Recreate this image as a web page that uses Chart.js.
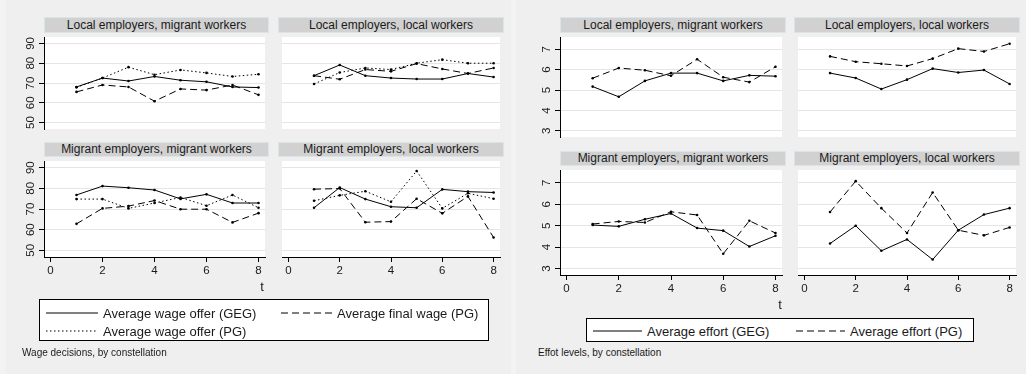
<!DOCTYPE html>
<html>
<head>
<meta charset="utf-8">
<script src="https://cdn.jsdelivr.net/npm/chart.js@4.4.1/dist/chart.umd.min.js"></script>
<style>
  html, body { margin: 0; padding: 0; }
  body { width: 1026px; height: 374px; background: #f3f3f3; position: relative; overflow: hidden;
         font-family: "Liberation Sans", Arial, Helvetica, sans-serif; color: #1a1a1a; }
  .graph { position: absolute; top: 0; height: 374px; background: #efefef; }
  .panel-title { position: absolute; box-sizing: border-box; background: #d1d1d1; border: 1px solid #dbe4e8;
                 font-size: 12px; text-align: center; white-space: nowrap; }
  canvas { position: absolute; }
  .axis-title { position: absolute; font-size: 13px; transform: translate(-50%, -50%); }
  .legend { position: absolute; box-sizing: border-box; background: #fff; border: 1px solid #000; }
  .legend svg { position: absolute; overflow: visible; }
  .legend span { position: absolute; font-size: 13px; white-space: nowrap; transform: translateY(-50%); }
  .caption { position: absolute; font-size: 10px; transform: translateY(-50%); white-space: nowrap; }
</style>
</head>
<body>
<div class="graph" style="left:6px; width:505px;"></div>
<div class="graph" style="left:516px; width:510px;"></div>

<script>
// Periods and axis ticks
const periods = [1, 2, 3, 4, 5, 6, 7, 8];
const periodTicks = [0, 2, 4, 6, 8];
const wageTicks = [50, 60, 70, 80, 90];
const effortTicks = [3, 4, 5, 6, 7];

const panelNames = [
  'Local employers, migrant workers',
  'Local employers, local workers',
  'Migrant employers, migrant workers',
  'Migrant employers, local workers'
];

// Wage decisions: average wage offer (GEG), average final wage (PG), average wage offer (PG)
const wageOfferGEG_LM = [68.0, 72.5, 71.0, 73.3, 71.4, 70.6, 68.0, 67.7];
const finalWagePG_LM  = [65.5, 69.0, 68.0, 60.8, 67.0, 66.4, 69.0, 64.0];
const wageOfferPG_LM  = [67.8, 72.5, 78.0, 74.2, 76.6, 75.1, 73.3, 74.4];

const wageOfferGEG_LL = [73.7, 79.1, 73.7, 72.5, 72.0, 72.0, 74.8, 73.0];
const finalWagePG_LL  = [73.7, 71.9, 76.8, 75.9, 79.8, 77.1, 74.8, 77.6];
const wageOfferPG_LL  = [69.5, 75.3, 77.6, 76.8, 80.0, 81.8, 80.0, 80.0];

const wageOfferGEG_MM = [76.8, 81.1, 80.3, 79.2, 74.9, 77.1, 72.9, 72.9];
const finalWagePG_MM  = [62.8, 70.3, 71.4, 74.1, 69.9, 69.9, 63.5, 68.0];
const wageOfferPG_MM  = [74.8, 74.8, 70.3, 72.9, 75.6, 71.6, 76.8, 70.6];

const wageOfferGEG_ML = [70.6, 80.4, 74.8, 71.1, 70.6, 79.5, 78.4, 78.0];
const finalWagePG_ML  = [79.6, 79.9, 63.6, 63.9, 75.0, 67.9, 76.1, 56.2];
const wageOfferPG_ML  = [74.0, 76.6, 78.6, 73.5, 88.4, 70.3, 77.6, 75.0];

// Effort levels: average effort (GEG), average effort (PG)
const effortGEG_LM = [5.17, 4.67, 5.45, 5.83, 5.83, 5.45, 5.72, 5.68];
const effortPG_LM  = [5.58, 6.08, 5.97, 5.70, 6.51, 5.63, 5.39, 6.14];

const effortGEG_LL = [5.83, 5.59, 5.05, 5.51, 6.05, 5.86, 5.98, 5.30];
const effortPG_LL  = [6.65, 6.39, 6.29, 6.18, 6.54, 7.03, 6.89, 7.27];

const effortGEG_MM = [5.03, 4.97, 5.30, 5.57, 4.89, 4.77, 4.03, 4.53];
const effortPG_MM  = [5.08, 5.20, 5.15, 5.65, 5.50, 3.69, 5.23, 4.66];

const effortGEG_ML = [4.17, 5.00, 3.83, 4.36, 3.42, 4.79, 5.52, 5.82];
const effortPG_ML  = [5.64, 7.08, 5.82, 4.66, 6.55, 4.79, 4.55, 4.92];

// Line styles shared by both graphs
const SOLID = [];
const DASHED = [7, 4];
const DOTTED = [1.5, 2.5];

const FONT = '"Liberation Sans", Arial, Helvetica, sans-serif';
const Y_AXIS_W = 40;
const X_AXIS_H = 24;

// White plot region and vertical (rotated) y tick labels
const panelDecor = {
  id: 'panelDecor',
  beforeDraw(chart) {
    const { ctx, chartArea: a } = chart;
    ctx.save();
    ctx.fillStyle = '#ffffff';
    ctx.fillRect(a.left, a.top, a.right - a.left, a.bottom - a.top);
    ctx.restore();
  },
  afterDraw(chart, args, opts) {
    if (!opts.rotatedY) return;
    const { ctx } = chart;
    const s = chart.scales.y;
    ctx.save();
    ctx.font = '11.5px ' + FONT;
    ctx.fillStyle = '#1a1a1a';
    ctx.textAlign = 'center';
    ctx.textBaseline = 'middle';
    s.ticks.forEach(t => {
      const py = s.getPixelForValue(t.value);
      ctx.save();
      ctx.translate(s.right - 14.5, py);
      ctx.rotate(-Math.PI / 2);
      ctx.fillText(String(t.value), 0, 1);
      ctx.restore();
    });
    ctx.restore();
  }
};

function series(values, dash) {
  return {
    data: periods.map((t, i) => ({ x: t, y: values[i] })),
    borderColor: '#000',
    borderWidth: 1,
    borderDash: dash,
    pointRadius: 1.3,
    pointBackgroundColor: '#000',
    pointBorderWidth: 0,
    tension: 0,
    fill: false
  };
}

function panel(cfg) {
  const p = cfg.plot;
  const left = p.x - (cfg.showY ? Y_AXIS_W : 0);
  const width = p.w + (cfg.showY ? Y_AXIS_W : 0);
  const height = p.h + (cfg.showX ? X_AXIS_H : 0);

  const title = document.createElement('div');
  title.className = 'panel-title';
  title.textContent = cfg.title;
  Object.assign(title.style, {
    left: p.x + 'px', top: cfg.titleY + 'px', width: p.w + 'px',
    height: cfg.titleH + 'px', lineHeight: (cfg.titleH - 2) + 'px'
  });
  document.body.appendChild(title);

  const canvas = document.createElement('canvas');
  canvas.width = width;
  canvas.height = height;
  Object.assign(canvas.style, { left: left + 'px', top: p.y + 'px', width: width + 'px', height: height + 'px' });
  document.body.appendChild(canvas);

  new Chart(canvas, {
    type: 'line',
    data: { datasets: cfg.datasets },
    options: {
      responsive: false,
      animation: false,
      devicePixelRatio: 1,
      layout: { padding: 0 },
      plugins: {
        legend: { display: false },
        tooltip: { enabled: false },
        panelDecor: { rotatedY: cfg.showY }
      },
      scales: {
        x: {
          type: 'linear',
          display: cfg.showX,
          min: -0.25, max: 8.25,
          afterBuildTicks: s => { s.ticks = periodTicks.map(v => ({ value: v })); },
          afterFit: s => { s.height = cfg.showX ? X_AXIS_H : 0; },
          grid: { drawOnChartArea: false, drawTicks: true, tickLength: 5, tickColor: '#000', lineWidth: 1 },
          border: { display: true, color: '#000', width: 1 },
          ticks: { color: '#1a1a1a', font: { family: FONT, size: 11.5 }, padding: 2, maxRotation: 0, autoSkip: false }
        },
        y: {
          type: 'linear',
          min: cfg.yMin, max: cfg.yMax,
          afterBuildTicks: s => { s.ticks = cfg.yTicks.map(v => ({ value: v })); },
          afterFit: s => { s.width = cfg.showY ? Y_AXIS_W : 0; },
          grid: { color: '#e5e5e5', lineWidth: 1, drawTicks: cfg.showY, tickLength: 5, tickColor: '#000' },
          border: { display: cfg.showY, color: '#000', width: 1 },
          ticks: { display: false }
        }
      }
    },
    plugins: [panelDecor]
  });
}

// Wage decisions, by constellation
const wageSets = [
  [wageOfferGEG_LM, finalWagePG_LM, wageOfferPG_LM],
  [wageOfferGEG_LL, finalWagePG_LL, wageOfferPG_LL],
  [wageOfferGEG_MM, finalWagePG_MM, wageOfferPG_MM],
  [wageOfferGEG_ML, finalWagePG_ML, wageOfferPG_ML]
];
const wageLayout = [
  { plot: { x: 44, y: 33, w: 225, h: 100 }, titleY: 17, titleH: 16, showY: true, showX: false },
  { plot: { x: 278, y: 33, w: 226, h: 100 }, titleY: 17, titleH: 16, showY: false, showX: false },
  { plot: { x: 44, y: 157, w: 225, h: 100 }, titleY: 142, titleH: 15, showY: true, showX: true },
  { plot: { x: 278, y: 157, w: 226, h: 100 }, titleY: 142, titleH: 15, showY: false, showX: true }
];
wageLayout.forEach((l, i) => panel(Object.assign({}, l, {
  title: panelNames[i],
  yMin: 46.75, yMax: 93.25, yTicks: wageTicks,
  datasets: [series(wageSets[i][0], SOLID), series(wageSets[i][1], DASHED), series(wageSets[i][2], DOTTED)]
})));

// Effort levels, by constellation
const effortSets = [
  [effortGEG_LM, effortPG_LM],
  [effortGEG_LL, effortPG_LL],
  [effortGEG_MM, effortPG_MM],
  [effortGEG_ML, effortPG_ML]
];
const effortLayout = [
  { plot: { x: 560, y: 33, w: 226, h: 108 }, titleY: 17, titleH: 16, showY: true, showX: false },
  { plot: { x: 794, y: 33, w: 226, h: 108 }, titleY: 17, titleH: 16, showY: false, showX: false },
  { plot: { x: 560, y: 166, w: 226, h: 109 }, titleY: 151, titleH: 15, showY: true, showX: true },
  { plot: { x: 794, y: 166, w: 226, h: 109 }, titleY: 151, titleH: 15, showY: false, showX: true }
];
effortLayout.forEach((l, i) => panel(Object.assign({}, l, {
  title: panelNames[i],
  yMin: 2.7, yMax: 7.6, yTicks: effortTicks,
  datasets: [series(effortSets[i][0], SOLID), series(effortSets[i][1], DASHED)]
})));

// Axis titles, legends and captions
function addText(cls, text, x, y) {
  const d = document.createElement('div');
  d.className = cls;
  d.textContent = text;
  d.style.left = x + 'px';
  d.style.top = y + 'px';
  document.body.appendChild(d);
  return d;
}
addText('axis-title', 't', 262, 286);
addText('axis-title', 't', 780, 304);

function legend(box, items) {
  const lg = document.createElement('div');
  lg.className = 'legend';
  Object.assign(lg.style, { left: box.x + 'px', top: box.y + 'px', width: box.w + 'px', height: box.h + 'px' });
  items.forEach(it => {
    const svg = document.createElementNS('http://www.w3.org/2000/svg', 'svg');
    svg.setAttribute('width', it.len);
    svg.setAttribute('height', 4);
    svg.style.left = (it.x - box.x) + 'px';
    svg.style.top = (it.y - box.y - 2) + 'px';
    const ln = document.createElementNS('http://www.w3.org/2000/svg', 'line');
    ln.setAttribute('x1', 0); ln.setAttribute('x2', it.len);
    ln.setAttribute('y1', 2); ln.setAttribute('y2', 2);
    ln.setAttribute('stroke', '#000');
    ln.setAttribute('stroke-width', 1);
    if (it.dash.length) ln.setAttribute('stroke-dasharray', it.dash.join(' '));
    svg.appendChild(ln);
    lg.appendChild(svg);
    const sp = document.createElement('span');
    sp.textContent = it.label;
    sp.style.left = (it.x - box.x + it.len + 5) + 'px';
    sp.style.top = (it.y - box.y) + 'px';
    lg.appendChild(sp);
  });
  document.body.appendChild(lg);
}
legend({ x: 39, y: 299, w: 450, h: 42 }, [
  { x: 45, y: 312, len: 52, dash: SOLID, label: 'Average wage offer (GEG)' },
  { x: 280, y: 312, len: 51, dash: DASHED, label: 'Average final wage (PG)' },
  { x: 45, y: 330, len: 52, dash: DOTTED, label: 'Average wage offer (PG)' }
]);
legend({ x: 586, y: 318, w: 388, h: 24 }, [
  { x: 592, y: 330, len: 49, dash: SOLID, label: 'Average effort (GEG)' },
  { x: 795, y: 330, len: 49, dash: DASHED, label: 'Average effort (PG)' }
]);

addText('caption', 'Wage decisions, by constellation', 22, 352);
addText('caption', 'Effot levels, by constellation', 538, 352);
</script>
</body>
</html>
